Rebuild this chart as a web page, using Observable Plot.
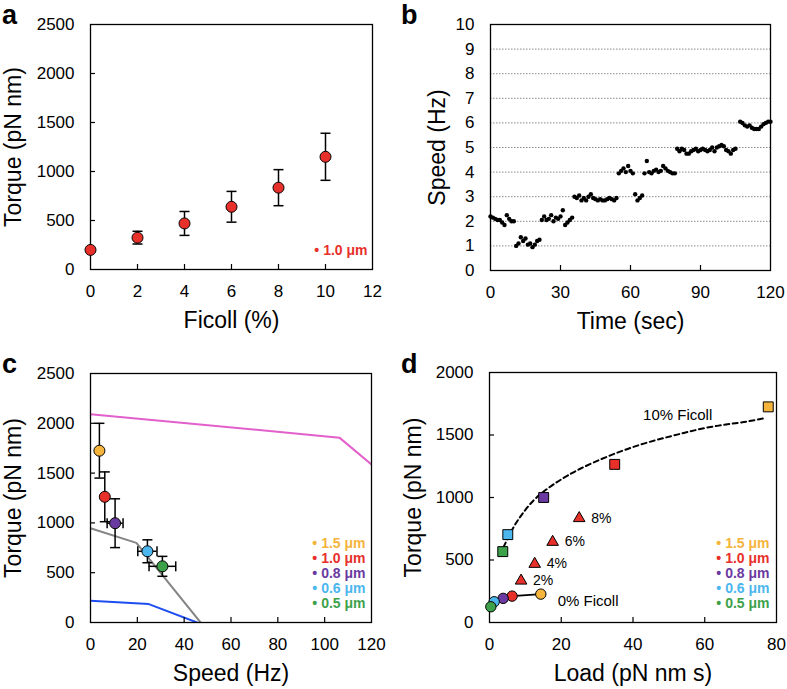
<!DOCTYPE html>
<html><head><meta charset="utf-8">
<script src="https://cdn.jsdelivr.net/npm/d3@7"></script>
<script src="https://cdn.jsdelivr.net/npm/@observablehq/plot@0.6"></script>
<style>
body{margin:0;background:#fff;}
#root{position:relative;width:787px;height:689px;font-family:"Liberation Sans",Arial,sans-serif;background:#fff;}
.panel{position:absolute;}
.letter{position:absolute;font-weight:bold;font-size:27px;line-height:27px;color:#000;}
</style></head><body><div id="root"></div>
<script>
// ---------- Panel a ----------
const ficollPct = [0, 2, 4, 6, 8, 10];
const torqueA = [200, 325, 470, 640, 835, 1150];
const torqueAErr = [0, 65, 122, 157, 184, 240];

// ---------- Panel b ----------
const timeB = [0,1,2,3,4,5,6,7,8,9,10,
  11,12,13,14,15,16,17,18,19,20,21,
  22,23,24,25,26,27,28,29,30,31,32,33,34,35,
  36,37,38,39,40,41,42,43,44,45,46,47,48,49,50,51,52,53,54,
  55,56,57,58,59,60,61,
  62,63,64,65,
  66,67,68,69,70,71,72,73,74,75,76,77,78,79,
  80,81,82,83,84,85,86,87,88,89,90,91,92,93,94,95,96,97,98,99,100,101,102,103,104,105,
  107,108,109,110,111,112,113,114,115,116,117,118,119,120];
const speedB = [2.2,2.15,2.1,2.05,2.05,1.95,1.85,2.25,2.1,2.0,2.0,
  1.0,1.1,1.35,1.2,1.3,1.05,1.1,0.95,1.05,1.2,1.25,
  2.05,2.2,2.05,2.1,2.25,2.0,2.15,2.1,2.2,2.45,1.85,1.95,2.05,2.15,
  3.0,2.95,3.05,2.85,2.95,2.85,3.0,3.1,2.95,2.9,2.85,2.9,2.85,2.85,2.9,2.95,2.9,2.85,2.95,
  3.95,4.05,4.15,4.0,4.25,4.05,3.95,
  3.1,2.85,2.95,3.05,
  3.95,4.45,4.0,3.95,4.05,4.1,4.0,4.05,4.25,4.15,4.05,4.0,3.95,3.95,
  4.95,4.85,4.95,4.9,4.75,4.75,4.85,4.9,4.95,4.85,4.9,4.95,4.9,4.85,4.9,5.0,4.85,5.0,5.05,5.1,5.05,4.9,4.85,4.75,4.9,4.95,
  6.05,6.0,5.9,5.85,5.9,5.8,5.75,5.75,5.75,5.85,5.95,6.0,6.05,6.05];

// ---------- Panel c ----------
const beadSizes = ["1.5 μm", "1.0 μm", "0.8 μm", "0.6 μm", "0.5 μm"];
const beadColors = ["#f5b43c", "#e8302a", "#6a3aa0", "#4cb6ee", "#3da14a"];
const speedC = [3.8, 6.1, 10.5, 24.3, 30.7];
const speedCErr = [0, 0, 3.4, 4.1, 5.7];
const torqueC = [1725, 1262, 997, 715, 564];
const torqueCErr = [275, 250, 245, 115, 100];
const pinkSpeed = [0, 106.3, 120], pinkTorque = [2091, 1856, 1587];
const graySpeed = [0, 19.6, 47], grayTorque = [946, 799, 0];
const blueSpeed = [0, 24.9, 45.5], blueTorque = [218, 185, 0];

// ---------- Panel d ----------
const load10 = [77.7, 34.9, 15.1, 5.1, 3.7];
const torque10 = [1725, 1265, 1000, 703, 567];
const load0 = [14.3, 6.3, 3.8, 1.3, 0.37];
const torque0 = [227, 211, 193, 166, 126];
const ficollLabels = ["2%", "4%", "6%", "8%"];
const loadTri = [8.8, 12.6, 17.6, 25.0];
const torqueTri = [334, 468, 644, 834];
const fitLoad = [3.9, 6.7, 9.5, 13.2, 18.8, 25.3, 33.7, 43, 52.3, 61.6, 70.9, 77];
const fitTorque = [603, 762, 882, 1002, 1123, 1230, 1337, 1431, 1503, 1564, 1604, 1636];

// ---------- helpers ----------
const FONT = '"Liberation Sans", Arial, sans-serif';
const hcap = {draw(ctx) { ctx.moveTo(-5, 0); ctx.lineTo(5, 0); }};
const vcap = {draw(ctx) { ctx.moveTo(0, -5); ctx.lineTo(0, 5); }};
const plain = d => String(d);

function frameMarks({xTicks, yTicks, xLabel, yLabel, fw, fh, xInTicks = xTicks, yInTicks = yTicks, yTitleDx = -77}) {
  const m = [
    Plot.axisX(xTicks, {tickSize: 0, tickPadding: 15, fontSize: 17, label: null, tickFormat: plain}),
    Plot.axisY(yTicks, {tickSize: 0, tickPadding: 16, fontSize: 17, label: null, tickFormat: plain}),
    Plot.text([xLabel], {frameAnchor: "bottom", dy: 51, fontSize: 23, textAnchor: "middle", lineAnchor: "middle", text: d => d}),
    Plot.text([yLabel], {frameAnchor: "left", dx: yTitleDx, rotate: -90, fontSize: 23, textAnchor: "middle", lineAnchor: "middle", text: d => d})
  ];
  if (xInTicks.length) m.push(Plot.tickX(xInTicks, {x: d => d, insetTop: fh - 5, stroke: "black", strokeWidth: 1.2}));
  if (yInTicks.length) m.push(Plot.tickY(yInTicks, {y: d => d, insetRight: fw - 5, stroke: "black", strokeWidth: 1.2}));
  m.push(Plot.frame({stroke: "black", strokeWidth: 1.3}));
  return m;
}

function legendMarks(labels, colors, dx, bottomDy) {
  return labels.map((lab, i) => Plot.text([lab], {
    frameAnchor: "bottom-right", textAnchor: "end", lineAnchor: "middle", dx, dy: bottomDy - 15 * (labels.length - 1 - i),
    text: d => "• " + d, fill: colors[i], fontWeight: "bold", fontSize: 14
  }));
}

const root = document.getElementById("root");
function place(svg, left, top) {
  const div = document.createElement("div");
  div.className = "panel";
  div.style.left = left + "px"; div.style.top = top + "px";
  div.appendChild(svg);
  root.appendChild(div);
}
function letter(ch, left, top) {
  const d = document.createElement("div");
  d.className = "letter"; d.textContent = ch;
  d.style.left = left + "px"; d.style.top = top + "px";
  root.appendChild(d);
}
const baseStyle = {fontFamily: FONT, fontSize: "17px", background: "transparent", overflow: "visible", color: "black"};

// ---------- Panel a ----------
const dataA = ficollPct.map((x, i) => ({x, y: torqueA[i], e: torqueAErr[i]}));
const errA = dataA.filter(d => d.e > 0);
place(Plot.plot({
  width: 393, height: 340, marginLeft: 90, marginRight: 21, marginTop: 24, marginBottom: 71,
  style: baseStyle,
  x: {domain: [0, 12], label: null}, y: {domain: [0, 2500], label: null},
  marks: [
    ...frameMarks({xTicks: [0, 2, 4, 6, 8, 10, 12], yTicks: [0, 500, 1000, 1500, 2000, 2500],
      xInTicks: [2, 4, 6, 8, 10], yInTicks: [500, 1000, 1500, 2000],
      xLabel: "Ficoll (%)", yLabel: "Torque (pN nm)", fw: 282, fh: 245}),
    Plot.ruleX(errA, {x: "x", y1: d => d.y - d.e, y2: d => d.y + d.e, stroke: "black", strokeWidth: 1.5}),
    Plot.dot(errA, {x: "x", y: d => d.y + d.e, symbol: hcap, stroke: "black", strokeWidth: 1.5, fill: "none"}),
    Plot.dot(errA, {x: "x", y: d => d.y - d.e, symbol: hcap, stroke: "black", strokeWidth: 1.5, fill: "none"}),
    Plot.dot(dataA, {x: "x", y: "y", r: 5.5, fill: beadColors[1], stroke: "black", strokeWidth: 1}),
    ...legendMarks([beadSizes[1]], [beadColors[1]], -5, -19)
  ]
}), 0, 0);

// ---------- Panel b ----------
const dataB = timeB.map((t, i) => ({t, s: speedB[i]}));
place(Plot.plot({
  width: 387, height: 340, marginLeft: 90, marginRight: 17, marginTop: 24, marginBottom: 70,
  style: baseStyle,
  x: {domain: [0, 120], label: null}, y: {domain: [0, 10], label: null},
  marks: [
    Plot.ruleY([1, 2, 3, 4, 5, 6, 7, 8, 9], {y: d => d, stroke: "#8a8a8a", strokeWidth: 1, strokeDasharray: "1.5,1.5"}),
    ...frameMarks({xTicks: [0, 30, 60, 90, 120], yTicks: [0, 1, 2, 3, 4, 5, 6, 7, 8, 9, 10],
      xInTicks: [30, 60, 90], yInTicks: [],
      xLabel: "Time (sec)", yLabel: "Speed (Hz)", fw: 280, fh: 246, yTitleDx: -53}),
    Plot.dot(dataB, {x: "t", y: "s", r: 2.2, fill: "black", stroke: "none"})
  ]
}), 400, 0);

// ---------- Panel c ----------
const dataC = speedC.map((x, i) => ({x, y: torqueC[i], ex: speedCErr[i], ey: torqueCErr[i], c: beadColors[i]}));
const errCx = dataC.filter(d => d.ex > 0);
const lineData = (xs, ys) => xs.map((x, i) => ({x, y: ys[i]}));
place(Plot.plot({
  width: 393, height: 349, marginLeft: 90, marginRight: 22, marginTop: 33, marginBottom: 67,
  style: baseStyle,
  x: {domain: [0, 120], label: null}, y: {domain: [0, 2500], label: null},
  marks: [
    Plot.line(lineData(pinkSpeed, pinkTorque), {x: "x", y: "y", stroke: "#e35fcb", strokeWidth: 2, clip: true}),
    Plot.line(lineData(graySpeed, grayTorque), {x: "x", y: "y", stroke: "#858585", strokeWidth: 2, clip: true}),
    Plot.line(lineData(blueSpeed, blueTorque), {x: "x", y: "y", stroke: "#1e4ef0", strokeWidth: 2, clip: true}),
    ...frameMarks({xTicks: [0, 20, 40, 60, 80, 100, 120], yTicks: [0, 500, 1000, 1500, 2000, 2500],
      xInTicks: [20, 40, 60, 80, 100], yInTicks: [500, 1000, 1500, 2000],
      xLabel: "Speed (Hz)", yLabel: "Torque (pN nm)", fw: 281, fh: 249}),
    Plot.ruleX(dataC, {x: "x", y1: d => d.y - d.ey, y2: d => d.y + d.ey, stroke: "black", strokeWidth: 1.5}),
    Plot.dot(dataC, {x: "x", y: d => d.y + d.ey, symbol: hcap, stroke: "black", strokeWidth: 1.5, fill: "none"}),
    Plot.dot(dataC, {x: "x", y: d => d.y - d.ey, symbol: hcap, stroke: "black", strokeWidth: 1.5, fill: "none"}),
    Plot.ruleY(errCx, {y: "y", x1: d => d.x - d.ex, x2: d => d.x + d.ex, stroke: "black", strokeWidth: 1.5}),
    Plot.dot(errCx, {x: d => d.x - d.ex, y: "y", symbol: vcap, stroke: "black", strokeWidth: 1.5, fill: "none"}),
    Plot.dot(errCx, {x: d => d.x + d.ex, y: "y", symbol: vcap, stroke: "black", strokeWidth: 1.5, fill: "none"}),
    Plot.dot(dataC, {x: "x", y: "y", r: 5.5, fill: "c", stroke: "black", strokeWidth: 1}),
    ...legendMarks(beadSizes, beadColors, -6, -19)
  ]
}), 0, 340);

// ---------- Panel d ----------
const sq = load10.map((x, i) => ({x, y: torque10[i], c: beadColors[i]}));
const circ = load0.map((x, i) => ({x, y: torque0[i], c: beadColors[i]}));
const tri = loadTri.map((x, i) => ({x, y: torqueTri[i], lab: ficollLabels[i]}));
place(Plot.plot({
  width: 387, height: 349, marginLeft: 89, marginRight: 11, marginTop: 32, marginBottom: 67,
  style: baseStyle,
  x: {domain: [0, 80], label: null}, y: {domain: [0, 2000], label: null},
  marks: [
    ...frameMarks({xTicks: [0, 20, 40, 60, 80], yTicks: [0, 500, 1000, 1500, 2000],
      xInTicks: [20, 40, 60], yInTicks: [500, 1000, 1500],
      xLabel: "Load (pN nm s)", yLabel: "Torque (pN nm)", fw: 287, fh: 250, yTitleDx: -76}),
    Plot.line(lineData(fitLoad, fitTorque), {x: "x", y: "y", curve: "natural", stroke: "black", strokeWidth: 2, strokeDasharray: "5,3.5"}),
    Plot.line(circ, {x: "x", y: "y", stroke: "black", strokeWidth: 1.6}),
    Plot.dot(sq, {x: "x", y: "y", symbol: "square", r: 5.6, fill: "c", stroke: "black", strokeWidth: 1}),
    Plot.dot(tri, {x: "x", y: "y", symbol: "triangle", r: 4.3, fill: beadColors[1], stroke: "black", strokeWidth: 1}),
    Plot.text(tri, {x: "x", y: "y", text: "lab", dx: 12, textAnchor: "start", fontSize: 14}),
    Plot.dot(circ, {x: "x", y: "y", r: 5.2, fill: "c", stroke: "black", strokeWidth: 1}),
    Plot.text(["10% Ficoll"], {x: 42.8, y: 1658, text: d => d, textAnchor: "start", fontSize: 15}),
    Plot.text(["0% Ficoll"], {x: 19.0, y: 168, text: d => d, textAnchor: "start", fontSize: 15}),
    ...legendMarks(beadSizes, beadColors, -7, -19)
  ]
}), 400, 340);

letter("a", 2, 2);
letter("b", 401, 2);
letter("c", 2, 351);
letter("d", 401, 351);
</script>
</body></html>
